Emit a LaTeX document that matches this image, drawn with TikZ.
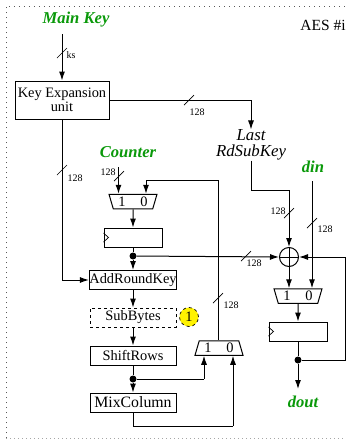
\documentclass[tikz,border=0pt]{standalone}
\usepackage{fontspec}
\setmainfont{Liberation Serif}
\usepackage{xcolor}
\usepackage{tikz}
\usetikzlibrary{arrows.meta,positioning,shapes.geometric}
\definecolor{sigcolor}{HTML}{0A990A}

\begin{document}
\begin{tikzpicture}[
  x=1pt,y=-1pt,
  box/.style={rectangle,draw=black,line width=1pt,inner sep=0pt,align=center,
              font=\fontsize{14.4}{14}\selectfont},
  regbox/.style={rectangle,draw=black,line width=1pt,minimum width=58pt,minimum height=19pt},
  muxbox/.style={trapezium,draw=black,line width=1pt,inner sep=0pt,trapezium stretches=true,
              trapezium angle=72,minimum height=14.5pt,font=\fontsize{14.4}{14}\selectfont},
  sig/.style={font=\fontsize{16.6}{18}\selectfont\bfseries\itshape,text=sigcolor,inner sep=0pt},
  wid/.style={font=\fontsize{10}{10}\selectfont,inner sep=0pt},
  jdot/.style={circle,fill=black,inner sep=0pt,minimum size=7pt},
  xorgate/.style={circle,draw=black,line width=1pt,inner sep=0pt,minimum size=19pt},
  arr/.style={-{Latex[length=9pt,width=6pt]},line width=1pt},
  wire/.style={line width=1pt}
]
  \useasboundingbox (0,0) rectangle (352,440);
  \coordinate (frameA) at (6,438);
  \coordinate (frameB) at (6,6);
  \coordinate (frameC) at (346,6);
  \coordinate (frameD) at (346,438);
  \draw[black!65,line width=0.8pt,dash pattern=on 1pt off 4pt] (frameA) -- (frameB) -- (frameC);
  \draw[black!35,line width=0.8pt,dash pattern=on 1pt off 3pt] (frameA) -- (frameD);

  \node[sig] (mainkey) at (76,20) {Main Key};
  \node[font=\fontsize{15.5}{16}\selectfont,inner sep=0pt] (aes) at (323,25) {AES \#i};
  \node[box,minimum width=94pt,minimum height=38pt] (keyexp) at (62,100) {Key Expansion\\unit};
  \node[font=\fontsize{16.8}{16}\selectfont\itshape,align=center,inner sep=0pt] (lastkey) at (251,145) {Last\\RdSubKey};
  \node[sig] (counter) at (128,152) {Counter};
  \node[sig] (din) at (313,167) {din};
  \node[sig] (dout) at (303,402) {dout};

  \node[muxbox,shape border rotate=180,minimum width=48pt] (ctrmux) at (133,201.5) {1\hspace{15pt}0};
  \node[regbox] (ctrreg) at (133,237.5) {};
  \node[jdot] (ctrdot) at (133,256) {};
  \node[box,minimum width=86pt,minimum height=19pt] (addkey) at (133,280) {AddRoundKey};
  \node[box,dashed,minimum width=86pt,minimum height=19pt] (subbytes) at (133,317.5) {SubBytes};
  \node[circle,draw=black,dashed,fill=yellow,line width=0.7pt,inner sep=0pt,minimum size=19pt,
        font=\fontsize{14.4}{14}\selectfont] (sbnote) at (189,317) {1};
  \node[box,minimum width=86pt,minimum height=19pt] (shiftrows) at (133,355.5) {ShiftRows};
  \node[jdot] (srdot) at (133,379) {};
  \node[box,minimum width=86pt,minimum height=19pt,font=\fontsize{15.8}{14}\selectfont] (mixcol) at (133,402.5) {MixColumn};
  \node[muxbox,minimum width=48pt] (loopmux) at (219,348) {1\hspace{15pt}0};

  \node[xorgate] (xor) at (289,257) {};
  \node[muxbox,shape border rotate=180,minimum width=48pt] (outmux) at (298,296) {1\hspace{15pt}0};
  \node[regbox] (outreg) at (298,331.5) {};
  \node[jdot] (outdot) at (298,360) {};

  \coordinate (keyin) at (62,34);
  \coordinate (ctrin) at (118.5,167);
  \coordinate (ctrfb) at (146,180);
  \coordinate (fbcorner) at (218,180);
  \coordinate (keycorner) at (251,100);
  \coordinate (lastcorner) at (251,190);
  \coordinate (lastturn) at (289,190);
  \coordinate (dinend) at (312,181);
  \coordinate (outcorner) at (345,360);
  \coordinate (outtop) at (345,257);
  \coordinate (doutend) at (298,389);
  \coordinate (mixturn) at (133,426);
  \coordinate (mixcorner) at (233,426);
  \coordinate (srturn) at (204,379);

  \draw[arr] (keyin) -- (keyin |- keyexp.north);
  \draw[wire] (keyexp.east) -- (keycorner);
  \draw[arr] (keycorner) -- (keycorner |- lastkey.north);
  \draw[arr] (keyexp.south) |- (addkey.west);
  \draw[wire] (lastkey.south) -- (lastcorner) -- (lastturn);
  \draw[arr] (lastturn) -- (xor.north);
  \draw[arr] (dinend) -- (dinend |- outmux.north);
  \draw[arr] (ctrin) -- (ctrin |- ctrmux.north);
  \draw[wire] (fbcorner) -- (ctrfb);
  \draw[arr] (ctrfb) -- (ctrfb |- ctrmux.north);
  \draw[wire] (fbcorner) -- (fbcorner |- loopmux.north);
  \draw[arr] (ctrmux.south) -- (ctrreg.north);
  \draw[wire] (ctrreg.south) -- (ctrdot);
  \draw[arr] (ctrdot) -- (addkey.north);
  \draw[arr] (ctrdot) -- (xor.west);
  \draw[arr] (addkey.south) -- (subbytes.north);
  \draw[arr] (subbytes.south) -- (shiftrows.north);
  \draw[wire] (shiftrows.south) -- (srdot);
  \draw[arr] (srdot) -- (mixcol.north);
  \draw[wire] (srdot) -- (srturn);
  \draw[arr] (srturn) -- (srturn |- loopmux.south);
  \draw[wire] (mixcol.south) -- (mixturn) -- (mixcorner);
  \draw[arr] (mixcorner) -- (mixcorner |- loopmux.south);
  \draw[arr] (xor.south) -- (xor |- outmux.north);
  \draw[arr] (outmux.south) -- (outreg.north);
  \draw[wire] (outreg.south) -- (outdot);
  \draw[arr] (outdot) -- (doutend);
  \draw[wire] (outdot) -- (outcorner) -- (outtop);
  \draw[arr] (outtop) -- (xor.east);
  \draw[line width=0.7pt] (xor.north) -- (xor.south) (xor.west) -- (xor.east);

  \foreach \r in {ctrreg,outreg}
    \draw[line width=0.7pt] ([yshift=4.5pt]\r.west) -- ([xshift=5pt]\r.west) -- ([yshift=-4.5pt]\r.west);

  \foreach \sx/\sy/\lx/\ly/\txt/\n in {62/53/71/55/ks/a,189/100/197/112/128/b,62/170/75/178/128/c,
      119/176/108/172/128/d,289/213/278/211/128/e,312/223/325/229/128/f,
      246/256/254/263/128/g,218/298/231/305/128/h}{
    \draw[line width=0.7pt] (\sx-5,\sy+5) -- (\sx+5,\sy-5);
    \node[wid] (width\n) at (\lx,\ly) {\txt};
  }
\end{tikzpicture}
\end{document}
